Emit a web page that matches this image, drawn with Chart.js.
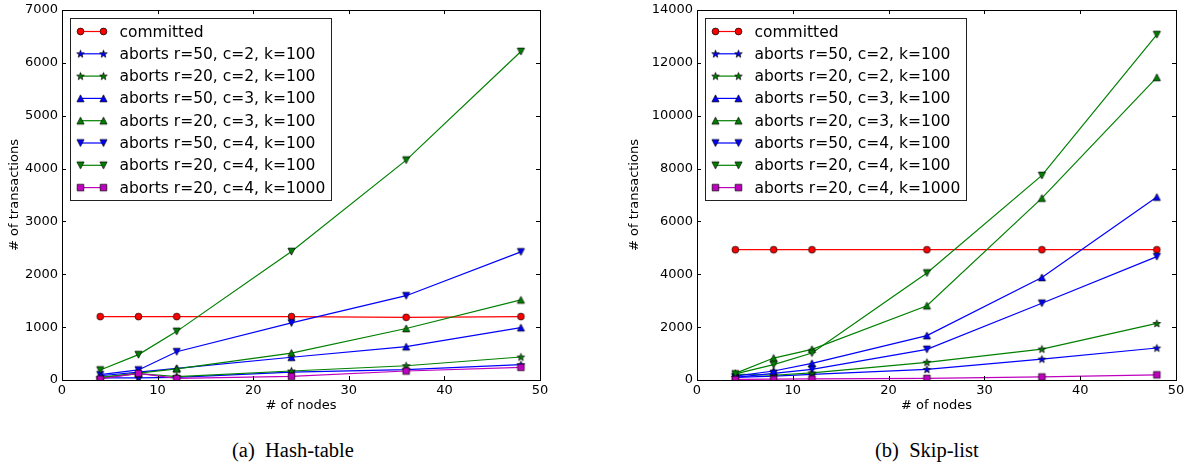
<!DOCTYPE html>
<html>
<head>
<meta charset="utf-8">
<script src="https://cdn.jsdelivr.net/npm/chart.js@4.4.1/dist/chart.umd.min.js"></script>
<style>
  body { margin: 0; background: #fff; }
  #page { position: relative; width: 1185px; height: 465px; overflow: hidden; }
  canvas { position: absolute; top: 0; }
  .cap { position: absolute; top: 439px; font-family: "Liberation Serif", "DejaVu Serif", serif; font-size: 20.5px; color: #000; white-space: pre; }
</style>
</head>
<body>
<div id="page">
  <canvas id="hash" width="560" height="420" style="left:0"></canvas>
  <canvas id="skip" width="565" height="420" style="left:620px"></canvas>
  <div class="cap" style="left:232px">(a)  Hash-table</div>
  <div class="cap" style="left:875px">(b)  Skip-list</div>
</div>
<script>
const nodes = [4, 8, 12, 24, 36, 48];
const labels = [
  'committed',
  'aborts r=50, c=2, k=100',
  'aborts r=20, c=2, k=100',
  'aborts r=50, c=3, k=100',
  'aborts r=20, c=3, k=100',
  'aborts r=50, c=4, k=100',
  'aborts r=20, c=4, k=100',
  'aborts r=20, c=4, k=1000'
];

// Hash-table
const hashCommitted = [1200, 1200, 1200, 1200, 1185, 1200];
const hashR50C2 = [40, 40, 50, 150, 195, 290];
const hashR20C2 = [40, 120, 65, 170, 270, 435];
const hashR50C3 = [80, 150, 220, 430, 630, 990];
const hashR20C3 = [50, 130, 210, 510, 975, 1515];
const hashR50C4 = [100, 190, 535, 1080, 1595, 2425];
const hashR20C4 = [190, 480, 920, 2430, 4160, 6215];
const hashK1000 = [20, 125, 30, 70, 170, 240];

// Skip-list
const skipCommitted = [4930, 4930, 4930, 4930, 4930, 4930];
const skipR50C2 = [100, 150, 210, 400, 790, 1210];
const skipR20C2 = [220, 180, 270, 670, 1170, 2140];
const skipR50C3 = [150, 340, 630, 1680, 3880, 6920];
const skipR20C3 = [250, 830, 1160, 2810, 6880, 11450];
const skipR50C4 = [100, 250, 400, 1160, 2905, 4670];
const skipR20C4 = [230, 580, 1020, 4050, 7740, 13070];
const skipK1000 = [20, 30, 40, 60, 115, 195];

const colors = ['#ff0000', '#0000ff', '#008000', '#0000ff', '#008000', '#0000ff', '#008000', '#bf00bf'];
const shapes = ['circle', 'star', 'star', 'up', 'up', 'down', 'down', 'square'];

function marker(shape, fill) {
  const c = document.createElement('canvas');
  c.width = 11; c.height = 11;
  const g = c.getContext('2d');
  const cx = 5.5, cy = 5.5;
  g.beginPath();
  if (shape === 'circle') {
    g.arc(cx, cy, 3.4, 0, Math.PI * 2);
  } else if (shape === 'square') {
    g.rect(cx - 3.3, cy - 3.3, 6.6, 6.6);
  } else if (shape === 'up') {
    g.moveTo(cx, cy - 3.6); g.lineTo(cx + 3.6, cy + 3.4); g.lineTo(cx - 3.6, cy + 3.4); g.closePath();
  } else if (shape === 'down') {
    g.moveTo(cx, cy + 3.6); g.lineTo(cx + 3.6, cy - 3.4); g.lineTo(cx - 3.6, cy - 3.4); g.closePath();
  } else {
    const ro = 4, ri = 1.6;
    for (let i = 0; i < 10; i++) {
      const r = i % 2 ? ri : ro;
      const a = -Math.PI / 2 + i * Math.PI / 5;
      const px = cx + r * Math.cos(a), py = cy + 0.3 + r * Math.sin(a);
      if (i === 0) g.moveTo(px, py); else g.lineTo(px, py);
    }
    g.closePath();
  }
  g.fillStyle = fill;
  g.fill();
  g.lineWidth = 0.7;
  g.strokeStyle = '#000';
  g.stroke();
  return c;
}

const markers = shapes.map((s, i) => marker(s, colors[i]));
const font = 'DejaVu Sans';

const framePlugin = {
  id: 'frame',
  afterDatasetsDraw(chart) {
    const ctx = chart.ctx;
    const a = chart.chartArea;
    ctx.save();
    ctx.strokeStyle = '#000';
    ctx.lineWidth = 1;
    ctx.strokeRect(Math.round(a.left) + 0.5, Math.round(a.top) + 0.5, Math.round(a.right - a.left), Math.round(a.bottom - a.top));
    const xs = chart.scales.x, ys = chart.scales.y;
    ctx.beginPath();
    xs.ticks.forEach(t => {
      const px = Math.round(xs.getPixelForValue(t.value)) + 0.5;
      ctx.moveTo(px, a.bottom); ctx.lineTo(px, a.bottom - 4);
      ctx.moveTo(px, a.top); ctx.lineTo(px, a.top + 4);
    });
    ys.ticks.forEach(t => {
      const py = Math.round(ys.getPixelForValue(t.value)) + 0.5;
      ctx.moveTo(a.left, py); ctx.lineTo(a.left + 4, py);
      ctx.moveTo(a.right, py); ctx.lineTo(a.right - 4, py);
    });
    ctx.stroke();

    // legend box inside the axes
    ctx.font = '15.5px "' + font + '"';
    const sets = chart.data.datasets;
    let maxW = 0;
    sets.forEach(d => { maxW = Math.max(maxW, ctx.measureText(d.label).width); });
    const bx = Math.round(a.left) + 8.5, by = Math.round(a.top) + 8.5;
    const bw = Math.round(49 + maxW + 6), bh = 182;
    ctx.fillStyle = '#fff';
    ctx.fillRect(bx, by, bw, bh);
    ctx.strokeStyle = '#222';
    ctx.strokeRect(bx, by, bw, bh);
    ctx.textBaseline = 'middle';
    sets.forEach((d, i) => {
      const cy = by + 13 + i * 22.3;
      ctx.strokeStyle = d.borderColor;
      ctx.lineWidth = 1.2;
      ctx.beginPath();
      ctx.moveTo(bx + 10, cy); ctx.lineTo(bx + 33, cy);
      ctx.stroke();
      const m = d.pointStyle;
      ctx.drawImage(m, bx + 10 - m.width / 2, cy - m.height / 2);
      ctx.drawImage(m, bx + 33 - m.width / 2, cy - m.height / 2);
      ctx.fillStyle = '#000';
      ctx.fillText(d.label, bx + 49, cy + 1);
    });
    ctx.restore();
  }
};

function setupChart(canvas, series, yMax, yStep, yWidth, padRight) {
  new Chart(canvas, {
    type: 'line',
    data: {
      datasets: series.map((vals, i) => ({
        label: labels[i],
        data: nodes.map((n, j) => ({ x: n, y: vals[j] })),
        borderColor: colors[i],
        backgroundColor: colors[i],
        borderWidth: 1.2,
        pointStyle: markers[i],
        pointRadius: 3.5,
        order: -i,
        tension: 0
      }))
    },
    options: {
      responsive: false,
      animation: false,
      layout: { padding: { top: 10, right: padRight, left: 0, bottom: 0 } },
      plugins: { legend: { display: false }, tooltip: { enabled: false } },
      scales: {
        x: {
          type: 'linear',
          min: 0, max: 50,
          grid: { display: false, drawTicks: false },
          border: { display: false },
          ticks: { stepSize: 10, padding: 3, color: '#000', font: { family: font, size: 13 }, callback: v => String(v) },
          title: { display: true, text: '# of nodes', color: '#000', padding: { top: 2, bottom: 7 }, font: { family: font, size: 13 } },
          afterFit(s) { s.height = 40; s.paddingLeft = 0; s.paddingRight = 0; }
        },
        y: {
          min: 0, max: yMax,
          grid: { display: false, drawTicks: false },
          border: { display: false },
          ticks: { stepSize: yStep, padding: 4, color: '#000', font: { family: font, size: 13 }, callback: v => String(v) },
          title: { display: true, text: '# of transactions', color: '#000', padding: { top: 7, bottom: 2 }, font: { family: font, size: 13 } },
          afterFit(s) { s.width = yWidth; s.paddingTop = 0; s.paddingBottom = 0; }
        }
      }
    },
    plugins: [framePlugin]
  });
}

setupChart(document.getElementById('hash'),
  [hashCommitted, hashR50C2, hashR20C2, hashR50C3, hashR20C3, hashR50C4, hashR20C4, hashK1000],
  7000, 1000, 62, 20);

setupChart(document.getElementById('skip'),
  [skipCommitted, skipR50C2, skipR20C2, skipR50C3, skipR20C3, skipR50C4, skipR20C4, skipK1000],
  14000, 2000, 77, 9);
</script>
</body>
</html>
